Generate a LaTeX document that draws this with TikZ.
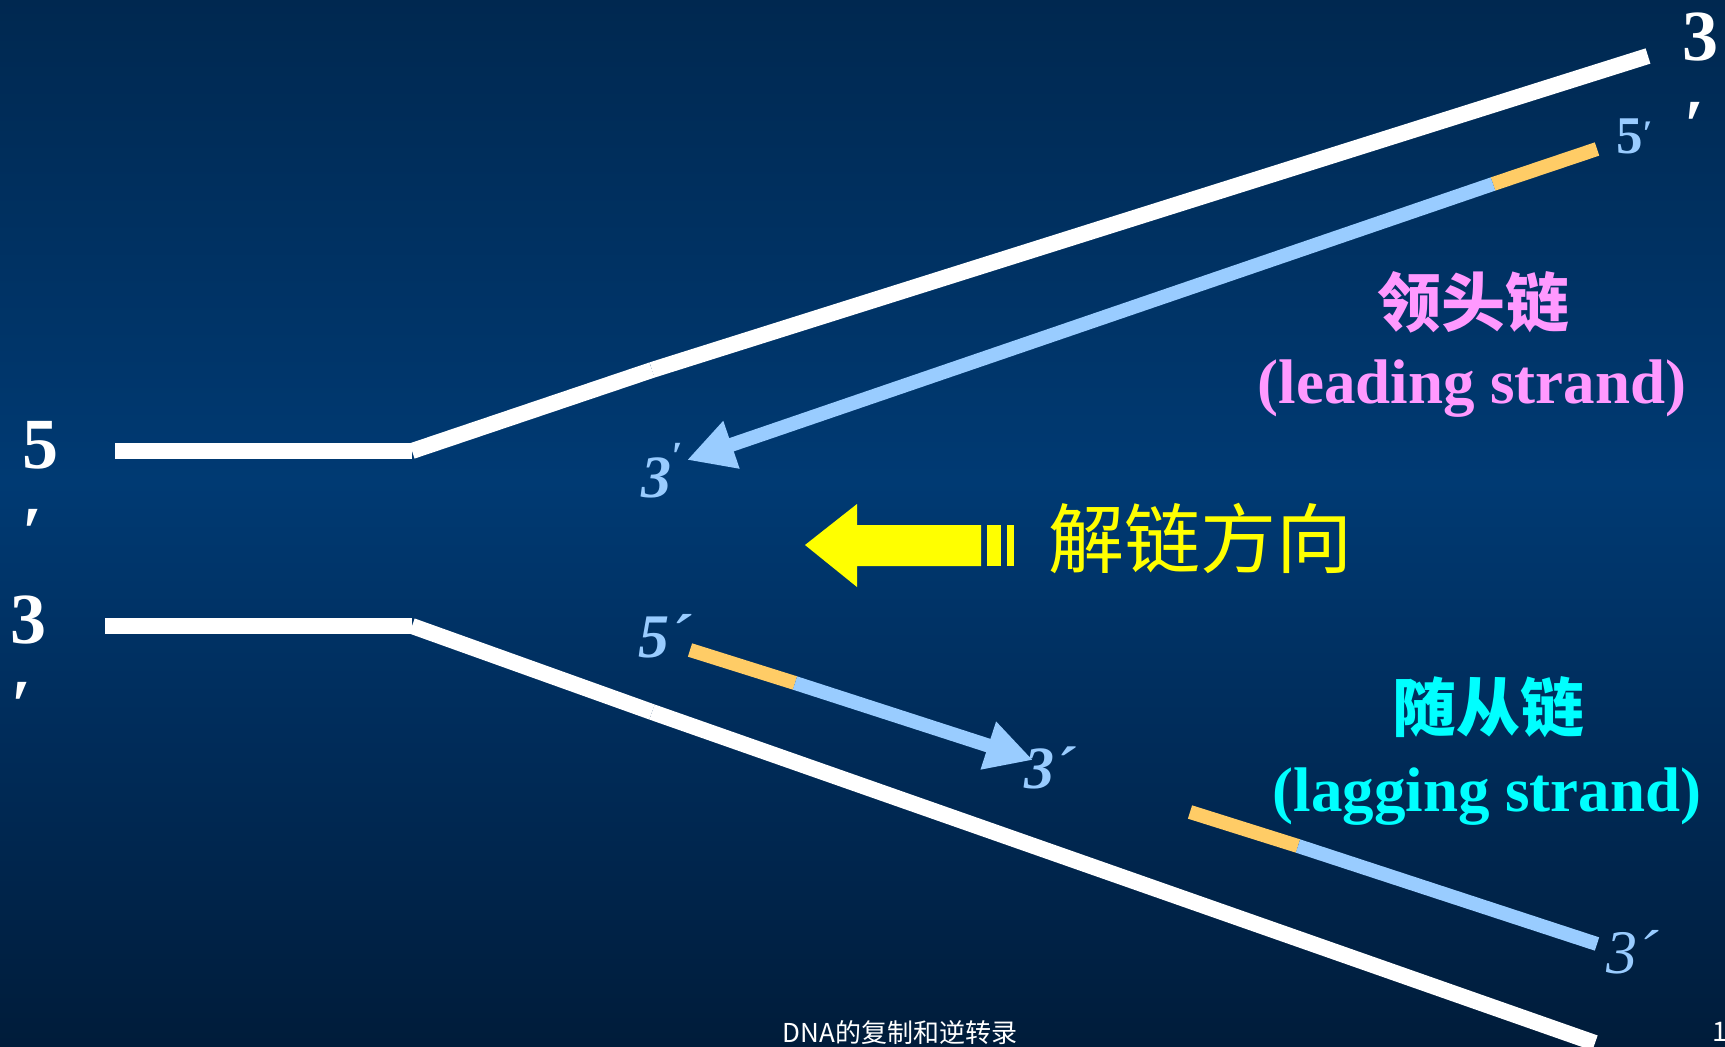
\documentclass[tikz,border=0pt]{standalone}
\usepackage{fontspec}
\setmainfont{Liberation Serif}
\newfontfamily\cjk{Noto Sans CJK SC}
\usetikzlibrary{arrows.meta}
\definecolor{lblue}{HTML}{99CCFF}
\definecolor{primer}{HTML}{FFCC66}
\definecolor{pinkc}{HTML}{FF99FF}
\definecolor{cyanc}{HTML}{00FFFF}
\definecolor{yellowc}{HTML}{FFFF00}
\definecolor{bgtop}{RGB}{0,40,80}
\definecolor{bgmid}{RGB}{0,58,115}
\definecolor{bglow}{RGB}{0,44,90}
\definecolor{bgbot}{RGB}{0,28,58}
\pgfdeclareverticalshading{slidebg}{100bp}{color(0bp)=(bgbot); color(25bp)=(bgbot); color(40bp)=(bglow); color(52bp)=(bgmid); color(75bp)=(bgtop); color(100bp)=(bgtop)}
\newcommand\setfs[1]{\fontsize{#1}{#1}\selectfont}
\begin{document}
\begin{tikzpicture}[x=1pt,y=-1pt,
  whitestrand/.style={draw=white,line width=16pt},
  bluestrand/.style={draw=lblue,line width=14pt},
  primerseg/.style={draw=primer,line width=14pt},
  bluetip/.style={-{Triangle[length=47pt,width=47pt]}},
  txt/.style={inner sep=0pt,outer sep=0pt}]
\shade[shading=slidebg] (0,0) rectangle (1725,1047);
\useasboundingbox (0,0) rectangle (1725,1047);
% parental strands
\coordinate (A1) at (115,451);
\coordinate (A2) at (412,451);
\coordinate (A3) at (652,370);
\coordinate (A4) at (1648,56);
\coordinate (B1) at (105,626);
\coordinate (B2) at (412,626);
\coordinate (B3) at (652,712);
\coordinate (B4) at (1595,1043);
\draw[whitestrand] (A1) -- (A2);
\draw[whitestrand] (A2) -- (A3);
\draw[whitestrand] (A3) -- (A4);
\draw[whitestrand] (B1) -- (B2);
\draw[whitestrand] (B2) -- (B3);
\draw[whitestrand] (B3) -- (B4);
% leading strand
\coordinate (L1) at (1597,149);
\coordinate (L2) at (1493,184);
\coordinate (L3) at (687,460);
\draw[primerseg] (L1) -- (L2);
\draw[bluestrand,bluetip] (L2) -- (L3);
% lagging fragment 1
\coordinate (G1) at (690,650);
\coordinate (G2) at (795,683);
\coordinate (G3) at (1033,760);
\draw[primerseg] (G1) -- (G2);
\draw[bluestrand,bluetip] (G2) -- (G3);
% lagging fragment 2
\coordinate (H1) at (1190,812);
\coordinate (H2) at (1298,846);
\coordinate (H3) at (1597,944);
\draw[primerseg] (H1) -- (H2);
\draw[bluestrand] (H2) -- (H3);
% unwinding arrow
\fill[yellowc] (805,545) -- (857,504) -- (857,525) -- (981,525) -- (981,566)
  -- (857,566) -- (857,587) -- cycle;
\fill[yellowc] (987,525) rectangle (1001,566);
\fill[yellowc] (1007,525) rectangle (1014,566);
% white end labels
\node[txt,anchor=base west,text=white,font=\bfseries\setfs{72}] (w5) at (22,468) {5};
\node[txt,anchor=base west,text=white,font=\bfseries\setfs{72}] (w5p) at (22,556) {′};
\node[txt,anchor=base west,text=white,font=\bfseries\setfs{72}] (w3) at (10,643) {3};
\node[txt,anchor=base west,text=white,font=\bfseries\setfs{72}] (w3p) at (12,729) {′};
\node[txt,anchor=base west,text=white,font=\bfseries\setfs{72}] (w3r) at (1682,60) {3};
\node[txt,anchor=base west,text=white,font=\bfseries\setfs{72}] (w3rp) at (1684,149) {′};
% light blue end labels
\node[txt,anchor=base west,text=lblue,font=\bfseries\setfs{53}] (b5) at (1616,153) {5\raisebox{8pt}{\setfs{36}′}};
\node[txt,anchor=base west,text=lblue,font=\bfseries\itshape\setfs{60}] (b3) at (641,497) {3\raisebox{28pt}{\setfs{40}′}};
\node[txt,anchor=base west,text=lblue,font=\bfseries\itshape\setfs{62}] (b5l) at (638,657) {5´};
\node[txt,anchor=base west,text=lblue,font=\bfseries\itshape\setfs{60}] (b3l) at (1024,788) {3´};
\node[txt,anchor=base west,text=lblue,font=\itshape\setfs{62}] (b3ll) at (1606,973) {3´};
% strand names
\node[txt,text=pinkc,font=\cjk\bfseries\setfs{64}] (lead) at (1473,302) {领头链};
\node[txt,anchor=base,text=pinkc,font=\bfseries\setfs{63}] (leaden) at (1472,403) {(leading strand)};
\node[txt,text=cyanc,font=\cjk\bfseries\setfs{64}] (lag) at (1488,707) {随从链};
\node[txt,anchor=base,text=cyanc,font=\bfseries\setfs{63}] (lagen) at (1487,811) {(lagging strand)};
\node[txt,text=yellowc,font=\cjk\setfs{76}] (unw) at (1200,538) {解链方向};
% footer
\node[txt,anchor=base,text=white,font=\cjk\setfs{26}] (foot) at (900,1042) {DNA的复制和逆转录};
\node[txt,anchor=base west,text=white,font=\cjk\setfs{27}] (pg) at (1712,1041) {1};
\end{tikzpicture}
\end{document}
